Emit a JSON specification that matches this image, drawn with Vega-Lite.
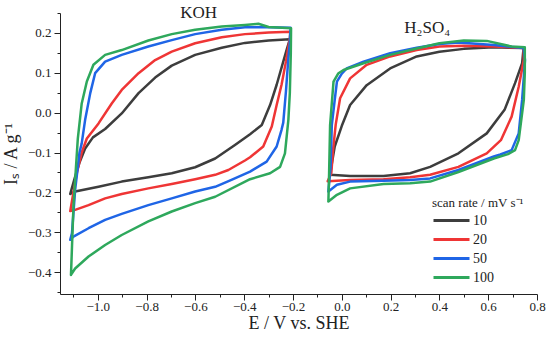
{
  "$schema": "https://vega.github.io/schema/vega-lite/v6.json",
  "width": 477,
  "height": 281,
  "autosize": "none",
  "padding": {"left": 60, "top": 13, "right": 13, "bottom": 56},
  "background": "white",
  "config": {
    "view": {"stroke": null},
    "font": "Liberation Serif",
    "axis": {"grid": false, "domainColor": "#222", "tickColor": "#222", "labelColor": "#222", "titleColor": "#222", "labelFont": "Liberation Serif", "titleFont": "Liberation Serif", "titleFontWeight": "normal"}
  },
  "resolve": {"axis": {"x": "independent", "y": "independent"}},
  "datasets": {
    "cv": [
      {"s":10,"el":"KOH","i":1,"E":-1.113,"I":-0.204},{"s":10,"el":"KOH","i":2,"E":-1.095,"I":-0.165},{"s":10,"el":"KOH","i":3,"E":-1.075,"I":-0.125},{"s":10,"el":"KOH","i":4,"E":-1.052,"I":-0.09},{"s":10,"el":"KOH","i":5,"E":-1.02,"I":-0.062},{"s":10,"el":"KOH","i":6,"E":-0.97,"I":-0.041},{"s":10,"el":"KOH","i":7,"E":-0.902,"I":-0.002},{"s":10,"el":"KOH","i":8,"E":-0.833,"I":0.049},{"s":10,"el":"KOH","i":9,"E":-0.765,"I":0.088},{"s":10,"el":"KOH","i":10,"E":-0.697,"I":0.118},{"s":10,"el":"KOH","i":11,"E":-0.601,"I":0.145},{"s":10,"el":"KOH","i":12,"E":-0.492,"I":0.163},{"s":10,"el":"KOH","i":13,"E":-0.397,"I":0.175},{"s":10,"el":"KOH","i":14,"E":-0.3,"I":0.181},{"s":10,"el":"KOH","i":15,"E":-0.213,"I":0.184},{"s":10,"el":"KOH","i":16,"E":-0.225,"I":0.16},{"s":10,"el":"KOH","i":17,"E":-0.24,"I":0.128},{"s":10,"el":"KOH","i":18,"E":-0.267,"I":0.07},{"s":10,"el":"KOH","i":19,"E":-0.294,"I":0.019},{"s":10,"el":"KOH","i":20,"E":-0.328,"I":-0.031},{"s":10,"el":"KOH","i":21,"E":-0.376,"I":-0.054},{"s":10,"el":"KOH","i":22,"E":-0.438,"I":-0.081},{"s":10,"el":"KOH","i":23,"E":-0.519,"I":-0.115},{"s":10,"el":"KOH","i":24,"E":-0.601,"I":-0.137},{"s":10,"el":"KOH","i":25,"E":-0.697,"I":-0.152},{"s":10,"el":"KOH","i":26,"E":-0.793,"I":-0.162},{"s":10,"el":"KOH","i":27,"E":-0.902,"I":-0.173},{"s":10,"el":"KOH","i":28,"E":-0.997,"I":-0.186},{"s":10,"el":"KOH","i":29,"E":-1.093,"I":-0.198},{"s":10,"el":"KOH","i":30,"E":-1.113,"I":-0.204},
      {"s":10,"el":"H2SO4","i":1,"E":-0.048,"I":-0.156},{"s":10,"el":"H2SO4","i":2,"E":-0.043,"I":-0.136},{"s":10,"el":"H2SO4","i":3,"E":-0.029,"I":-0.085},{"s":10,"el":"H2SO4","i":4,"E":0.0,"I":-0.033},{"s":10,"el":"H2SO4","i":5,"E":0.034,"I":0.019},{"s":10,"el":"H2SO4","i":6,"E":0.102,"I":0.069},{"s":10,"el":"H2SO4","i":7,"E":0.198,"I":0.111},{"s":10,"el":"H2SO4","i":8,"E":0.307,"I":0.141},{"s":10,"el":"H2SO4","i":9,"E":0.4,"I":0.153},{"s":10,"el":"H2SO4","i":10,"E":0.5,"I":0.16},{"s":10,"el":"H2SO4","i":11,"E":0.623,"I":0.164},{"s":10,"el":"H2SO4","i":12,"E":0.745,"I":0.162},{"s":10,"el":"H2SO4","i":13,"E":0.739,"I":0.124},{"s":10,"el":"H2SO4","i":14,"E":0.71,"I":0.074},{"s":10,"el":"H2SO4","i":15,"E":0.667,"I":0.007},{"s":10,"el":"H2SO4","i":16,"E":0.594,"I":-0.052},{"s":10,"el":"H2SO4","i":17,"E":0.478,"I":-0.102},{"s":10,"el":"H2SO4","i":18,"E":0.362,"I":-0.136},{"s":10,"el":"H2SO4","i":19,"E":0.28,"I":-0.152},{"s":10,"el":"H2SO4","i":20,"E":0.171,"I":-0.159},{"s":10,"el":"H2SO4","i":21,"E":0.034,"I":-0.159},{"s":10,"el":"H2SO4","i":22,"E":-0.048,"I":-0.156},
      {"s":20,"el":"KOH","i":1,"E":-1.113,"I":-0.247},{"s":20,"el":"KOH","i":2,"E":-1.1,"I":-0.2},{"s":20,"el":"KOH","i":3,"E":-1.086,"I":-0.152},{"s":20,"el":"KOH","i":4,"E":-1.066,"I":-0.1},{"s":20,"el":"KOH","i":5,"E":-1.045,"I":-0.065},{"s":20,"el":"KOH","i":6,"E":-0.997,"I":-0.027},{"s":20,"el":"KOH","i":7,"E":-0.943,"I":0.023},{"s":20,"el":"KOH","i":8,"E":-0.902,"I":0.057},{"s":20,"el":"KOH","i":9,"E":-0.833,"I":0.099},{"s":20,"el":"KOH","i":10,"E":-0.765,"I":0.132},{"s":20,"el":"KOH","i":11,"E":-0.697,"I":0.153},{"s":20,"el":"KOH","i":12,"E":-0.601,"I":0.174},{"s":20,"el":"KOH","i":13,"E":-0.492,"I":0.189},{"s":20,"el":"KOH","i":14,"E":-0.397,"I":0.197},{"s":20,"el":"KOH","i":15,"E":-0.3,"I":0.201},{"s":20,"el":"KOH","i":16,"E":-0.211,"I":0.203},{"s":20,"el":"KOH","i":17,"E":-0.213,"I":0.187},{"s":20,"el":"KOH","i":18,"E":-0.229,"I":0.128},{"s":20,"el":"KOH","i":19,"E":-0.247,"I":0.07},{"s":20,"el":"KOH","i":20,"E":-0.267,"I":0.019},{"s":20,"el":"KOH","i":21,"E":-0.287,"I":-0.035},{"s":20,"el":"KOH","i":22,"E":-0.322,"I":-0.085},{"s":20,"el":"KOH","i":23,"E":-0.376,"I":-0.112},{"s":20,"el":"KOH","i":24,"E":-0.397,"I":-0.12},{"s":20,"el":"KOH","i":25,"E":-0.465,"I":-0.144},{"s":20,"el":"KOH","i":26,"E":-0.519,"I":-0.156},{"s":20,"el":"KOH","i":27,"E":-0.601,"I":-0.167},{"s":20,"el":"KOH","i":28,"E":-0.697,"I":-0.179},{"s":20,"el":"KOH","i":29,"E":-0.793,"I":-0.19},{"s":20,"el":"KOH","i":30,"E":-0.902,"I":-0.204},{"s":20,"el":"KOH","i":31,"E":-0.97,"I":-0.215},{"s":20,"el":"KOH","i":32,"E":-1.038,"I":-0.232},{"s":20,"el":"KOH","i":33,"E":-1.093,"I":-0.244},{"s":20,"el":"KOH","i":34,"E":-1.113,"I":-0.247},
      {"s":20,"el":"H2SO4","i":1,"E":-0.058,"I":-0.172},{"s":20,"el":"H2SO4","i":2,"E":-0.043,"I":-0.152},{"s":20,"el":"H2SO4","i":3,"E":-0.036,"I":-0.094},{"s":20,"el":"H2SO4","i":4,"E":-0.025,"I":-0.03},{"s":20,"el":"H2SO4","i":5,"E":-0.007,"I":0.036},{"s":20,"el":"H2SO4","i":6,"E":0.034,"I":0.086},{"s":20,"el":"H2SO4","i":7,"E":0.102,"I":0.12},{"s":20,"el":"H2SO4","i":8,"E":0.198,"I":0.141},{"s":20,"el":"H2SO4","i":9,"E":0.307,"I":0.157},{"s":20,"el":"H2SO4","i":10,"E":0.4,"I":0.166},{"s":20,"el":"H2SO4","i":11,"E":0.5,"I":0.168},{"s":20,"el":"H2SO4","i":12,"E":0.623,"I":0.166},{"s":20,"el":"H2SO4","i":13,"E":0.745,"I":0.162},{"s":20,"el":"H2SO4","i":14,"E":0.746,"I":0.132},{"s":20,"el":"H2SO4","i":15,"E":0.725,"I":0.065},{"s":20,"el":"H2SO4","i":16,"E":0.696,"I":-0.01},{"s":20,"el":"H2SO4","i":17,"E":0.652,"I":-0.069},{"s":20,"el":"H2SO4","i":18,"E":0.594,"I":-0.102},{"s":20,"el":"H2SO4","i":19,"E":0.478,"I":-0.136},{"s":20,"el":"H2SO4","i":20,"E":0.362,"I":-0.156},{"s":20,"el":"H2SO4","i":21,"E":0.28,"I":-0.162},{"s":20,"el":"H2SO4","i":22,"E":0.171,"I":-0.167},{"s":20,"el":"H2SO4","i":23,"E":0.034,"I":-0.169},{"s":20,"el":"H2SO4","i":24,"E":-0.058,"I":-0.172},
      {"s":50,"el":"KOH","i":1,"E":-1.113,"I":-0.319},{"s":50,"el":"KOH","i":2,"E":-1.106,"I":-0.303},{"s":50,"el":"KOH","i":3,"E":-1.093,"I":-0.194},{"s":50,"el":"KOH","i":4,"E":-1.075,"I":-0.1},{"s":50,"el":"KOH","i":5,"E":-1.066,"I":-0.077},{"s":50,"el":"KOH","i":6,"E":-1.052,"I":-0.018},{"s":50,"el":"KOH","i":7,"E":-1.031,"I":0.049},{"s":50,"el":"KOH","i":8,"E":-1.011,"I":0.099},{"s":50,"el":"KOH","i":9,"E":-0.97,"I":0.128},{"s":50,"el":"KOH","i":10,"E":-0.902,"I":0.145},{"s":50,"el":"KOH","i":11,"E":-0.793,"I":0.166},{"s":50,"el":"KOH","i":12,"E":-0.697,"I":0.182},{"s":50,"el":"KOH","i":13,"E":-0.601,"I":0.197},{"s":50,"el":"KOH","i":14,"E":-0.492,"I":0.208},{"s":50,"el":"KOH","i":15,"E":-0.397,"I":0.214},{"s":50,"el":"KOH","i":16,"E":-0.3,"I":0.214},{"s":50,"el":"KOH","i":17,"E":-0.21,"I":0.213},{"s":50,"el":"KOH","i":18,"E":-0.214,"I":0.17},{"s":50,"el":"KOH","i":19,"E":-0.219,"I":0.137},{"s":50,"el":"KOH","i":20,"E":-0.229,"I":0.053},{"s":50,"el":"KOH","i":21,"E":-0.24,"I":-0.025},{"s":50,"el":"KOH","i":22,"E":-0.247,"I":-0.043},{"s":50,"el":"KOH","i":23,"E":-0.267,"I":-0.085},{"s":50,"el":"KOH","i":24,"E":-0.308,"I":-0.123},{"s":50,"el":"KOH","i":25,"E":-0.376,"I":-0.148},{"s":50,"el":"KOH","i":26,"E":-0.45,"I":-0.168},{"s":50,"el":"KOH","i":27,"E":-0.519,"I":-0.186},{"s":50,"el":"KOH","i":28,"E":-0.601,"I":-0.198},{"s":50,"el":"KOH","i":29,"E":-0.697,"I":-0.215},{"s":50,"el":"KOH","i":30,"E":-0.793,"I":-0.232},{"s":50,"el":"KOH","i":31,"E":-0.902,"I":-0.254},{"s":50,"el":"KOH","i":32,"E":-0.97,"I":-0.269},{"s":50,"el":"KOH","i":33,"E":-1.038,"I":-0.29},{"s":50,"el":"KOH","i":34,"E":-1.1,"I":-0.311},{"s":50,"el":"KOH","i":35,"E":-1.113,"I":-0.319},
      {"s":50,"el":"H2SO4","i":1,"E":-0.055,"I":-0.198},{"s":50,"el":"H2SO4","i":2,"E":-0.046,"I":-0.136},{"s":50,"el":"H2SO4","i":3,"E":-0.041,"I":-0.031},{"s":50,"el":"H2SO4","i":4,"E":-0.029,"I":0.032},{"s":50,"el":"H2SO4","i":5,"E":-0.02,"I":0.078},{"s":50,"el":"H2SO4","i":6,"E":0.0,"I":0.098},{"s":50,"el":"H2SO4","i":7,"E":0.02,"I":0.111},{"s":50,"el":"H2SO4","i":8,"E":0.089,"I":0.128},{"s":50,"el":"H2SO4","i":9,"E":0.198,"I":0.149},{"s":50,"el":"H2SO4","i":10,"E":0.307,"I":0.163},{"s":50,"el":"H2SO4","i":11,"E":0.4,"I":0.172},{"s":50,"el":"H2SO4","i":12,"E":0.478,"I":0.176},{"s":50,"el":"H2SO4","i":13,"E":0.623,"I":0.17},{"s":50,"el":"H2SO4","i":14,"E":0.745,"I":0.162},{"s":50,"el":"H2SO4","i":15,"E":0.751,"I":0.132},{"s":50,"el":"H2SO4","i":16,"E":0.739,"I":0.032},{"s":50,"el":"H2SO4","i":17,"E":0.725,"I":-0.052},{"s":50,"el":"H2SO4","i":18,"E":0.696,"I":-0.094},{"s":50,"el":"H2SO4","i":19,"E":0.65,"I":-0.105},{"s":50,"el":"H2SO4","i":20,"E":0.623,"I":-0.11},{"s":50,"el":"H2SO4","i":21,"E":0.478,"I":-0.144},{"s":50,"el":"H2SO4","i":22,"E":0.362,"I":-0.165},{"s":50,"el":"H2SO4","i":23,"E":0.28,"I":-0.169},{"s":50,"el":"H2SO4","i":24,"E":0.171,"I":-0.171},{"s":50,"el":"H2SO4","i":25,"E":0.034,"I":-0.173},{"s":50,"el":"H2SO4","i":26,"E":-0.02,"I":-0.181},{"s":50,"el":"H2SO4","i":27,"E":-0.055,"I":-0.198},
      {"s":100,"el":"KOH","i":1,"E":-1.11,"I":-0.407},{"s":100,"el":"KOH","i":2,"E":-1.1,"I":-0.236},{"s":100,"el":"KOH","i":3,"E":-1.082,"I":-0.065},{"s":100,"el":"KOH","i":4,"E":-1.066,"I":0.023},{"s":100,"el":"KOH","i":5,"E":-1.045,"I":0.078},{"s":100,"el":"KOH","i":6,"E":-1.018,"I":0.12},{"s":100,"el":"KOH","i":7,"E":-0.97,"I":0.145},{"s":100,"el":"KOH","i":8,"E":-0.902,"I":0.157},{"s":100,"el":"KOH","i":9,"E":-0.793,"I":0.181},{"s":100,"el":"KOH","i":10,"E":-0.697,"I":0.197},{"s":100,"el":"KOH","i":11,"E":-0.601,"I":0.208},{"s":100,"el":"KOH","i":12,"E":-0.492,"I":0.216},{"s":100,"el":"KOH","i":13,"E":-0.397,"I":0.22},{"s":100,"el":"KOH","i":14,"E":-0.342,"I":0.223},{"s":100,"el":"KOH","i":15,"E":-0.3,"I":0.215},{"s":100,"el":"KOH","i":16,"E":-0.208,"I":0.212},{"s":100,"el":"KOH","i":17,"E":-0.209,"I":0.15},{"s":100,"el":"KOH","i":18,"E":-0.213,"I":0.05},{"s":100,"el":"KOH","i":19,"E":-0.219,"I":-0.018},{"s":100,"el":"KOH","i":20,"E":-0.226,"I":-0.06},{"s":100,"el":"KOH","i":21,"E":-0.233,"I":-0.102},{"s":100,"el":"KOH","i":22,"E":-0.253,"I":-0.136},{"s":100,"el":"KOH","i":23,"E":-0.294,"I":-0.152},{"s":100,"el":"KOH","i":24,"E":-0.376,"I":-0.167},{"s":100,"el":"KOH","i":25,"E":-0.519,"I":-0.211},{"s":100,"el":"KOH","i":26,"E":-0.601,"I":-0.227},{"s":100,"el":"KOH","i":27,"E":-0.697,"I":-0.248},{"s":100,"el":"KOH","i":28,"E":-0.793,"I":-0.273},{"s":100,"el":"KOH","i":29,"E":-0.902,"I":-0.307},{"s":100,"el":"KOH","i":30,"E":-0.97,"I":-0.332},{"s":100,"el":"KOH","i":31,"E":-1.038,"I":-0.361},{"s":100,"el":"KOH","i":32,"E":-1.093,"I":-0.391},{"s":100,"el":"KOH","i":33,"E":-1.11,"I":-0.407},
      {"s":100,"el":"H2SO4","i":1,"E":-0.055,"I":-0.223},{"s":100,"el":"H2SO4","i":2,"E":-0.052,"I":-0.15},{"s":100,"el":"H2SO4","i":3,"E":-0.048,"I":-0.031},{"s":100,"el":"H2SO4","i":4,"E":-0.034,"I":0.078},{"s":100,"el":"H2SO4","i":5,"E":-0.015,"I":0.098},{"s":100,"el":"H2SO4","i":6,"E":0.007,"I":0.107},{"s":100,"el":"H2SO4","i":7,"E":0.089,"I":0.124},{"s":100,"el":"H2SO4","i":8,"E":0.198,"I":0.145},{"s":100,"el":"H2SO4","i":9,"E":0.307,"I":0.161},{"s":100,"el":"H2SO4","i":10,"E":0.4,"I":0.174},{"s":100,"el":"H2SO4","i":11,"E":0.5,"I":0.181},{"s":100,"el":"H2SO4","i":12,"E":0.594,"I":0.18},{"s":100,"el":"H2SO4","i":13,"E":0.696,"I":0.166},{"s":100,"el":"H2SO4","i":14,"E":0.75,"I":0.164},{"s":100,"el":"H2SO4","i":15,"E":0.75,"I":0.1},{"s":100,"el":"H2SO4","i":16,"E":0.746,"I":0.032},{"s":100,"el":"H2SO4","i":17,"E":0.725,"I":-0.069},{"s":100,"el":"H2SO4","i":18,"E":0.71,"I":-0.094},{"s":100,"el":"H2SO4","i":19,"E":0.681,"I":-0.104},{"s":100,"el":"H2SO4","i":20,"E":0.623,"I":-0.115},{"s":100,"el":"H2SO4","i":21,"E":0.478,"I":-0.149},{"s":100,"el":"H2SO4","i":22,"E":0.362,"I":-0.173},{"s":100,"el":"H2SO4","i":23,"E":0.28,"I":-0.177},{"s":100,"el":"H2SO4","i":24,"E":0.171,"I":-0.179},{"s":100,"el":"H2SO4","i":25,"E":0.034,"I":-0.19},{"s":100,"el":"H2SO4","i":26,"E":-0.02,"I":-0.206},{"s":100,"el":"H2SO4","i":27,"E":-0.055,"I":-0.223}
    ],
    "labels": [
      {"label": "KOH", "E": -0.587, "I": 0.25},
      {"label": "H₂SO₄", "E": 0.35, "I": 0.213}
    ]
  },
  "layer": [
    {
      "data": {"name": "cv"},
      "mark": {"type": "line", "strokeWidth": 2.5, "strokeJoin": "round", "strokeCap": "round", "clip": false},
      "encoding": {
        "x": {"field": "E", "type": "quantitative", "scale": {"domain": [-1.155, 0.8], "nice": false, "zero": false},
          "axis": {"orient": "bottom", "title": "E / V vs. SHE", "titleFontSize": 18, "titlePadding": 1, "labelFontSize": 13, "labelPadding": 0, "tickSize": 6, "format": ".1f",
            "labelOverlap": false, "labelFlush": false,
            "values": [-1.0,-0.8,-0.6,-0.4,-0.2,0,0.2,0.4,0.6,0.8]}},
        "y": {"field": "I", "type": "quantitative", "scale": {"domain": [-0.455, 0.25], "nice": false, "zero": false},
          "axis": {"orient": "left", "title": "Iₛ / A g⁻¹", "titleFontSize": 18, "titlePadding": 7, "labelFontSize": 13, "labelPadding": 3, "tickSize": 6, "format": ".1f",
            "labelOverlap": false, "labelFlush": false,
            "values": [-0.4,-0.3,-0.2,-0.1,0,0.1,0.2]}},
        "color": {"field": "s", "type": "ordinal",
          "scale": {"domain": [10, 20, 50, 100], "range": ["#3d3d3d", "#ef3535", "#1f65e6", "#2ea85c"]},
          "legend": {"title": "scan rate / mV s⁻¹", "orient": "none", "legendX": 372, "legendY": 184,
            "titleFont": "Liberation Serif", "titleFontSize": 13, "titleFontWeight": "normal", "titleColor": "#222", "titlePadding": 3,
            "labelFont": "Liberation Serif", "labelFontSize": 14, "labelColor": "#222",
            "symbolType": "M-1,0H5", "symbolSize": 144, "symbolStrokeWidth": 3, "symbolFillColor": "transparent", "labelOffset": 26, "rowPadding": 4}},
        "detail": {"field": "el", "type": "nominal"},
        "order": {"field": "i", "type": "quantitative"}
      }
    },
    {
      "data": {"name": "labels"},
      "mark": {"type": "text", "font": "Liberation Serif", "fontSize": 17, "color": "#222", "baseline": "middle", "align": "center"},
      "encoding": {
        "x": {"field": "E", "type": "quantitative",
          "axis": {"orient": "bottom", "title": null, "labels": false, "domain": false, "tickSize": 3,
            "values": [-1.1,-0.9,-0.7,-0.5,-0.3,-0.1,0.1,0.3,0.5,0.7]}},
        "y": {"field": "I", "type": "quantitative",
          "axis": {"orient": "left", "title": null, "labels": false, "domain": false, "tickSize": 3,
            "values": [-0.45,-0.35,-0.25,-0.15,-0.05,0.05,0.15,0.25]}},
        "text": {"field": "label"}
      }
    }
  ]
}
